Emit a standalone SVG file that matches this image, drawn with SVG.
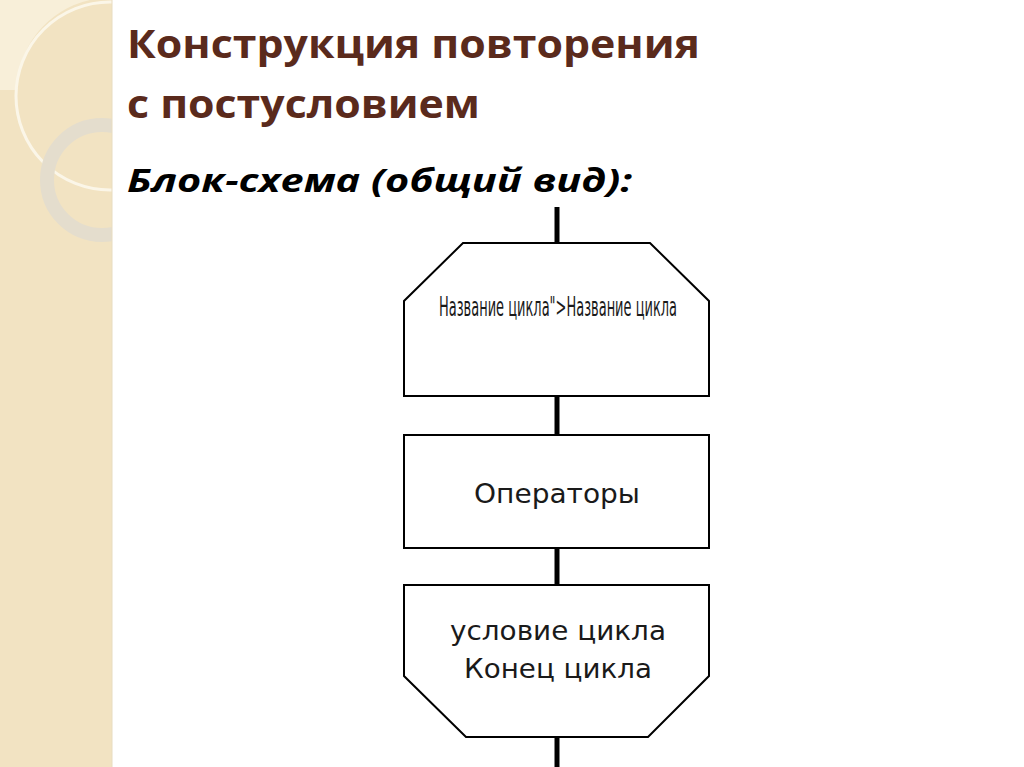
<svg xmlns="http://www.w3.org/2000/svg" width="1024" height="767" viewBox="0 0 1024 767">
<defs>
<style>
.sh{fill:#fff;stroke:#000;stroke-width:2}
.cn{stroke:#000;stroke-width:5}
.lb{font-family:"DejaVu Sans",sans-serif;font-size:27px;fill:#1a1a1a;text-anchor:middle}
</style>
<clipPath id="strip"><rect x="0" y="0" width="112" height="767"/></clipPath>
</defs>
<rect width="1024" height="767" fill="#fff"/>
<g clip-path="url(#strip)">
<rect width="112" height="767" fill="#f2e3c2"/>
<path d="M0 0 H90 A93 93 0 0 0 17 90 H0 Z" fill="#f8efd9"/>
<circle cx="110" cy="96" r="94" fill="none" stroke="#fbf6e8" stroke-width="3"/>
<circle cx="102" cy="180" r="55" fill="none" stroke="#e4ddcd" stroke-width="14"/>
</g>
<line x1="112" y1="0" x2="112" y2="767" stroke="#e8dcc0" stroke-width="1"/>
<text x="127" y="58" font-family="'Open Sans','Liberation Sans',sans-serif" font-weight="bold" font-size="40" fill="#5a2a1c" textLength="573" lengthAdjust="spacingAndGlyphs">Конструкция повторения</text>
<text x="127" y="118" font-family="'Open Sans','Liberation Sans',sans-serif" font-weight="bold" font-size="40" fill="#5a2a1c" textLength="353" lengthAdjust="spacingAndGlyphs">с постусловием</text>
<text x="127" y="192" font-family="'Open Sans','Liberation Sans',sans-serif" font-weight="bold" font-style="italic" font-size="33" fill="#000" textLength="505" lengthAdjust="spacingAndGlyphs">Блок-схема (общий вид):</text>
<g id="connectors">
<line class="cn" x1="557" y1="207" x2="557" y2="243"/>
<line class="cn" x1="557" y1="396" x2="557" y2="435"/>
<line class="cn" x1="557" y1="548" x2="557" y2="585"/>
<line class="cn" x1="557" y1="737" x2="557" y2="767"/>
</g>
<g id="loop-start">
<polygon class="sh" points="463,243 650,243 709,301 709,396 404,396 404,301"/>
<text class="lb" x="558" y="316" textLength="238" lengthAdjust="spacingAndGlyphs">Название цикла">Название цикла</text>
</g>
<g id="operators">
<rect class="sh" x="404" y="435" width="305" height="113"/>
<text class="lb" x="557" y="503" textLength="166" lengthAdjust="spacingAndGlyphs">Операторы</text>
</g>
<g id="loop-end">
<polygon class="sh" points="404,585 709,585 709,676 648,737 466,737 404,676"/>
<text class="lb" x="558" y="640" textLength="216" lengthAdjust="spacingAndGlyphs">условие цикла</text>
<text class="lb" x="558" y="678" textLength="188" lengthAdjust="spacingAndGlyphs">Конец цикла</text>
</g>
</svg>
